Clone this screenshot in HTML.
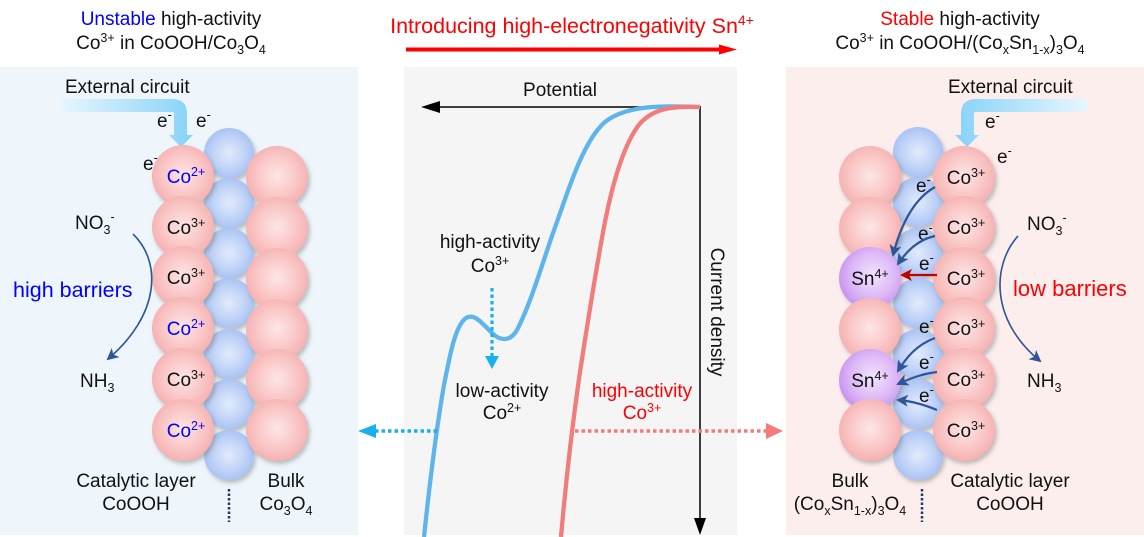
<!DOCTYPE html>
<html><head><meta charset="utf-8"><style>
html,body{margin:0;padding:0;background:#fff;}
svg{display:block;font-family:"Liberation Sans",Arial,sans-serif;}
</style></head><body>
<svg width="1144" height="537" viewBox="0 0 1144 537" xmlns="http://www.w3.org/2000/svg">
<defs>
<radialGradient id="gp" cx="50%" cy="48%" r="55%"><stop offset="0" stop-color="#fde6e6"/><stop offset="0.6" stop-color="#fac6c6"/><stop offset="1" stop-color="#f4aeae"/></radialGradient>
<radialGradient id="gb" cx="50%" cy="50%" r="55%"><stop offset="0" stop-color="#e2ebfc"/><stop offset="0.6" stop-color="#bfd2f7"/><stop offset="1" stop-color="#a3bff2"/></radialGradient>
<radialGradient id="gv" cx="55%" cy="45%" r="60%"><stop offset="0" stop-color="#f2e4fc"/><stop offset="0.6" stop-color="#ddb8f7"/><stop offset="1" stop-color="#c48ef0"/></radialGradient>
<linearGradient id="al" x1="0" y1="0" x2="1" y2="0"><stop offset="0" stop-color="#e8f6fe"/><stop offset="1" stop-color="#86d3f8"/></linearGradient>
<linearGradient id="ar" x1="1" y1="0" x2="0" y2="0"><stop offset="0" stop-color="#e8f6fe"/><stop offset="1" stop-color="#86d3f8"/></linearGradient>
<filter id="sh" x="-30%" y="-30%" width="170%" height="170%"><feDropShadow dx="2" dy="3" stdDeviation="2" flood-color="#777" flood-opacity="0.45"/></filter>
<marker id="mb" markerWidth="12" markerHeight="12" refX="10" refY="6" orient="auto" markerUnits="userSpaceOnUse"><path d="M0,0 L12,6 L0,12 L3,6 Z" fill="#2f5597"/></marker>
<marker id="mr" markerWidth="12" markerHeight="12" refX="10" refY="6" orient="auto" markerUnits="userSpaceOnUse"><path d="M0,0 L12,6 L0,12 L3,6 Z" fill="#c00000"/></marker>
</defs>

<!-- panels -->
<rect x="0" y="67" width="358" height="468" fill="#eef6fc"/>
<rect x="404" y="67" width="333" height="468" fill="#f5f5f5"/>
<rect x="786" y="67" width="358" height="468" fill="#fdeeee"/>

<!-- titles -->
<g font-size="19" fill="#111" text-anchor="middle">
<text x="171" y="25"><tspan fill="#0000ff">Unstable</tspan> high-activity</text>
<text x="171" y="49">Co<tspan font-size="12.5" dy="-7">3+</tspan><tspan dy="7"> in CoOOH/Co</tspan><tspan font-size="12.5" dy="5">3</tspan><tspan dy="-5">O</tspan><tspan font-size="12.5" dy="5">4</tspan></text>
<text x="960" y="25"><tspan fill="#ff0000">Stable</tspan> high-activity</text>
<text x="960" y="49">Co<tspan font-size="12.5" dy="-7">3+</tspan><tspan dy="7"> in CoOOH/(Co</tspan><tspan font-size="12.5" dy="5">x</tspan><tspan dy="-5">Sn</tspan><tspan font-size="12.5" dy="5">1-x</tspan><tspan dy="-5">)</tspan><tspan font-size="12.5" dy="5">3</tspan><tspan dy="-5">O</tspan><tspan font-size="12.5" dy="5">4</tspan></text>
</g>
<text x="572" y="33" font-size="21.5" fill="#ff0000" text-anchor="middle">Introducing high-electronegativity Sn<tspan font-size="14" dy="-8">4+</tspan></text>
<line x1="406" y1="49.5" x2="722" y2="49.5" stroke="#ff0000" stroke-width="4"/>
<polygon points="737,49.5 719,44.5 719,54.5" fill="#ff0000"/>

<!-- center chart -->
<line x1="700" y1="107" x2="432" y2="107" stroke="#000" stroke-width="1.5"/>
<polygon points="421,107 440,101 440,113" fill="#000"/>
<line x1="700" y1="106" x2="700" y2="522" stroke="#000" stroke-width="1.5"/>
<polygon points="700,535 694,518 706,518" fill="#000"/>
<text x="560" y="96" font-size="19" fill="#111" text-anchor="middle">Potential</text>
<text transform="translate(711,312) rotate(90)" font-size="19" fill="#111" text-anchor="middle">Current density</text>

<path d="M700,107 C665,106 628,104 605,122 C582,142 567,195 553,233 C541,268 530,305 517,330 C510,342 500,341 492,333 C481,322 474,313 466,318 C455,326 450,355 444,385 C437,425 430,480 424,537" fill="none" stroke="#5db5ec" stroke-width="4.3"/>
<path d="M700,107 C672,106 652,108 638,126 C623,147 612,185 604,227 C596,270 588,320 580,372 C573,420 566,480 561,537" fill="none" stroke="#f27b7b" stroke-width="4.3"/>

<line x1="492" y1="288" x2="492" y2="358" stroke="#1ab0ec" stroke-width="3.2" stroke-dasharray="3.5,3"/>
<polygon points="492,369 485,356 499,356" fill="#1ab0ec"/>
<line x1="437" y1="431" x2="374" y2="431" stroke="#1ab0ec" stroke-width="3.5" stroke-dasharray="3.5,3"/>
<polygon points="358,431 376,424 376,438" fill="#1ab0ec"/>
<line x1="575" y1="431" x2="767" y2="431" stroke="#f27b7b" stroke-width="3.5" stroke-dasharray="3.5,3"/>
<polygon points="783,431 766,423 766,439" fill="#f27b7b"/>

<g font-size="19" fill="#111" text-anchor="middle">
<text x="490" y="248">high-activity</text>
<text x="490" y="272">Co<tspan font-size="12.5" dy="-7">3+</tspan></text>
<text x="502" y="397">low-activity</text>
<text x="502" y="419">Co<tspan font-size="12.5" dy="-7">2+</tspan></text>
<text x="642" y="397" fill="#ff0000">high-activity</text>
<text x="642" y="419" fill="#ff0000">Co<tspan font-size="12.5" dy="-7">3+</tspan></text>
</g>

<!-- LEFT PANEL -->
<text x="65" y="93" font-size="19" fill="#111">External circuit</text>
<path d="M60,99 L172,99 Q187,99 187,114 L187,135 L193,135 L181,147 L169,135 L174,135 L174,114 Q174,112 172,112 L60,112 Z" fill="url(#al)"/>

<g filter="url(#sh)">
<circle cx="229" cy="153" r="25" fill="url(#gb)"/>
<circle cx="229" cy="203" r="25" fill="url(#gb)"/>
<circle cx="229" cy="253" r="25" fill="url(#gb)"/>
<circle cx="229" cy="303" r="25" fill="url(#gb)"/>
<circle cx="229" cy="354" r="25" fill="url(#gb)"/>
<circle cx="229" cy="404" r="25" fill="url(#gb)"/>
<circle cx="229" cy="455" r="25" fill="url(#gb)"/>
</g>
<g filter="url(#sh)">
<circle cx="183" cy="176" r="31" fill="url(#gp)"/>
<circle cx="183" cy="227" r="31" fill="url(#gp)"/>
<circle cx="183" cy="277" r="31" fill="url(#gp)"/>
<circle cx="183" cy="328" r="31" fill="url(#gp)"/>
<circle cx="183" cy="379" r="31" fill="url(#gp)"/>
<circle cx="183" cy="430" r="31" fill="url(#gp)"/>
<circle cx="277" cy="177" r="31" fill="url(#gp)"/>
<circle cx="277" cy="228" r="31" fill="url(#gp)"/>
<circle cx="277" cy="279" r="31" fill="url(#gp)"/>
<circle cx="277" cy="330" r="31" fill="url(#gp)"/>
<circle cx="277" cy="380" r="31" fill="url(#gp)"/>
<circle cx="277" cy="430" r="31" fill="url(#gp)"/>
</g>
<g font-size="19" fill="#111" text-anchor="middle">
<text x="186" y="183" fill="#0000ff">Co<tspan font-size="12.5" dy="-7">2+</tspan></text>
<text x="186" y="234">Co<tspan font-size="12.5" dy="-7">3+</tspan></text>
<text x="186" y="284">Co<tspan font-size="12.5" dy="-7">3+</tspan></text>
<text x="186" y="335" fill="#0000ff">Co<tspan font-size="12.5" dy="-7">2+</tspan></text>
<text x="186" y="386">Co<tspan font-size="12.5" dy="-7">3+</tspan></text>
<text x="186" y="437" fill="#0000ff">Co<tspan font-size="12.5" dy="-7">2+</tspan></text>
<text x="136" y="487">Catalytic layer</text>
<text x="136" y="510">CoOOH</text>
<text x="286" y="487">Bulk</text>
<text x="286" y="510">Co<tspan font-size="12.5" dy="5">3</tspan><tspan dy="-5">O</tspan><tspan font-size="12.5" dy="5">4</tspan></text>
</g>
<line x1="229" y1="489" x2="229" y2="522" stroke="#1f3864" stroke-width="2.5" stroke-dasharray="2.5,2"/>

<g font-size="19" fill="#111">
<text x="157" y="127">e<tspan font-size="12.5" dy="-8">-</tspan></text>
<text x="196" y="127">e<tspan font-size="12.5" dy="-8">-</tspan></text>
<text x="143" y="170">e<tspan font-size="12.5" dy="-8">-</tspan></text>
<text x="75" y="229">NO<tspan font-size="12.5" dy="5">3</tspan><tspan font-size="12.5" dy="-13">-</tspan></text>
<text x="80" y="387">NH<tspan font-size="12.5" dy="5">3</tspan></text>
</g>
<text x="13" y="297" font-size="21.5" fill="#0000ff">high barriers</text>
<path d="M133,234 C162,262 160,315 108,359" fill="none" stroke="#2f5597" stroke-width="1.6" marker-end="url(#mb)"/>

<!-- RIGHT PANEL -->
<text x="948" y="93" font-size="19" fill="#111">External circuit</text>
<path d="M1087,99 L976,99 Q961,99 961,114 L961,135 L955,135 L967,147 L979,135 L974,135 L974,114 Q974,112 976,112 L1087,112 Z" fill="url(#ar)"/>

<g filter="url(#sh)">
<circle cx="918" cy="152" r="25" fill="url(#gb)"/>
<circle cx="918" cy="202" r="25" fill="url(#gb)"/>
<circle cx="918" cy="253" r="25" fill="url(#gb)"/>
<circle cx="918" cy="303" r="25" fill="url(#gb)"/>
<circle cx="918" cy="354" r="25" fill="url(#gb)"/>
<circle cx="918" cy="404" r="25" fill="url(#gb)"/>
<circle cx="918" cy="455" r="25" fill="url(#gb)"/>
</g>
<g filter="url(#sh)">
<circle cx="870" cy="177" r="31" fill="url(#gp)"/>
<circle cx="870" cy="228" r="31" fill="url(#gp)"/>
<circle cx="870" cy="278" r="31" fill="url(#gv)"/>
<circle cx="870" cy="329" r="31" fill="url(#gp)"/>
<circle cx="870" cy="380" r="31" fill="url(#gv)"/>
<circle cx="870" cy="430" r="31" fill="url(#gp)"/>
<circle cx="964" cy="177" r="31" fill="url(#gp)"/>
<circle cx="964" cy="227" r="31" fill="url(#gp)"/>
<circle cx="964" cy="278" r="31" fill="url(#gp)"/>
<circle cx="964" cy="328" r="31" fill="url(#gp)"/>
<circle cx="964" cy="379" r="31" fill="url(#gp)"/>
<circle cx="964" cy="430" r="31" fill="url(#gp)"/>
</g>
<g font-size="19" fill="#111" text-anchor="middle">
<text x="966" y="184">Co<tspan font-size="12.5" dy="-7">3+</tspan></text>
<text x="966" y="234">Co<tspan font-size="12.5" dy="-7">3+</tspan></text>
<text x="966" y="285">Co<tspan font-size="12.5" dy="-7">3+</tspan></text>
<text x="966" y="335">Co<tspan font-size="12.5" dy="-7">3+</tspan></text>
<text x="966" y="386">Co<tspan font-size="12.5" dy="-7">3+</tspan></text>
<text x="966" y="437">Co<tspan font-size="12.5" dy="-7">3+</tspan></text>
<text x="870" y="285">Sn<tspan font-size="12.5" dy="-7">4+</tspan></text>
<text x="870" y="387">Sn<tspan font-size="12.5" dy="-7">4+</tspan></text>
<text x="850" y="487">Bulk</text>
<text x="850" y="510">(Co<tspan font-size="12.5" dy="5">x</tspan><tspan dy="-5">Sn</tspan><tspan font-size="12.5" dy="5">1-x</tspan><tspan dy="-5">)</tspan><tspan font-size="12.5" dy="5">3</tspan><tspan dy="-5">O</tspan><tspan font-size="12.5" dy="5">4</tspan></text>
<text x="1010" y="487">Catalytic layer</text>
<text x="1010" y="510">CoOOH</text>
</g>
<line x1="922" y1="489" x2="922" y2="522" stroke="#1f3864" stroke-width="2.5" stroke-dasharray="2.5,2"/>

<g font-size="19" fill="#111">
<text x="985" y="128">e<tspan font-size="12.5" dy="-8">-</tspan></text>
<text x="997" y="163">e<tspan font-size="12.5" dy="-8">-</tspan></text>
<text x="916" y="192">e<tspan font-size="12.5" dy="-8">-</tspan></text>
<text x="918" y="240">e<tspan font-size="12.5" dy="-8">-</tspan></text>
<text x="919" y="270">e<tspan font-size="12.5" dy="-8">-</tspan></text>
<text x="919" y="333">e<tspan font-size="12.5" dy="-8">-</tspan></text>
<text x="919" y="369">e<tspan font-size="12.5" dy="-8">-</tspan></text>
<text x="919" y="402">e<tspan font-size="12.5" dy="-8">-</tspan></text>
<text x="1027" y="230">NO<tspan font-size="12.5" dy="5">3</tspan><tspan font-size="12.5" dy="-13">-</tspan></text>
<text x="1027" y="387">NH<tspan font-size="12.5" dy="5">3</tspan></text>
</g>
<text x="1013" y="296" font-size="22" fill="#ff0000">low barriers</text>
<path d="M1018,236 C992,265 990,320 1040,361" fill="none" stroke="#2f5597" stroke-width="1.6" marker-end="url(#mb)"/>

<g fill="none" stroke="#2f5597" stroke-width="2.2">
<path d="M935,187 C912,200 900,228 893,255" marker-end="url(#mb)"/>
<path d="M935,236 C917,240 906,252 898,264" marker-end="url(#mb)"/>
<path d="M935,338 C916,345 906,358 898,371" marker-end="url(#mb)"/>
<path d="M937,372 C921,374 909,379 898,384" marker-end="url(#mb)"/>
<path d="M937,410 C925,405 912,401 898,400" marker-end="url(#mb)"/>
</g>
<line x1="937" y1="275" x2="902" y2="275" stroke="#c00000" stroke-width="2.2" marker-end="url(#mr)"/>
</svg>
</body></html>
